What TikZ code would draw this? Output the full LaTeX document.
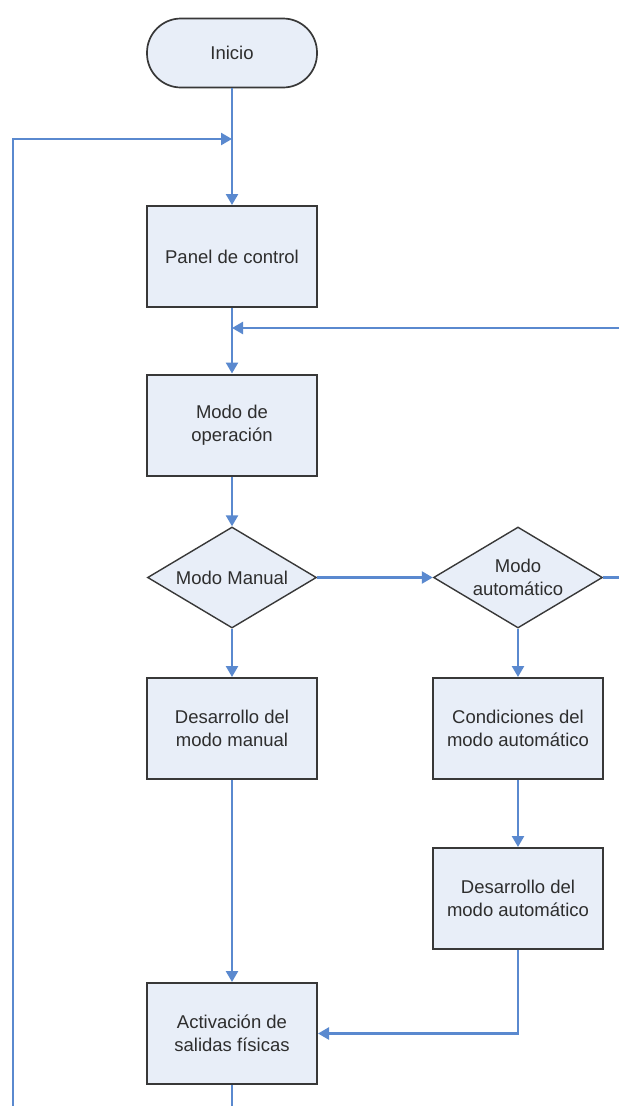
\documentclass[tikz,border=0pt]{standalone}
\usepackage{fontspec}
\setmainfont{Liberation Sans}
\usetikzlibrary{shapes.geometric,arrows.meta}
\definecolor{boxfill}{HTML}{E8EEF8}
\definecolor{boxline}{HTML}{383838}
\definecolor{flow}{HTML}{5A89CF}
\definecolor{txt}{HTML}{2E2E2E}
\begin{document}
\begin{tikzpicture}[x=1pt,y=-1pt,
  every node/.append style={font=\fontsize{18.5}{22.5}\selectfont, text=txt},
  proc/.style={draw=boxline, line width=2pt, fill=boxfill, minimum width=170pt,
    minimum height=101pt, align=center, inner sep=0pt},
  term/.style={draw=boxline, line width=1.7pt, fill=boxfill, rounded corners=34pt,
    minimum width=170pt, minimum height=69pt, inner sep=0pt},
  decision/.style={diamond, draw=boxline, line width=1.4pt, fill=boxfill,
    minimum width=169pt, minimum height=101pt, inner sep=0pt},
  flowline/.style={draw=flow, line width=2.4pt},
  arr/.style={flowline, -{Triangle[length=11pt,width=12pt]}}]
\useasboundingbox[fill=white] (0,0) rectangle (619,1106);

% main column
\node[term] (ini) at (232,53) {Inicio};
\node[proc] (pan) at (232,256.5) {Panel de control};
\node[proc] (op) at (232,425) {Modo de\\operación};
\node[decision, label={center:Modo Manual}] (mm) at (232,577.5) {};
\node[proc] (dm) at (232,728.5) {Desarrollo del\\modo manual};
\node[proc] (act) at (232,1033.5) {Activación de\\salidas físicas};

% automatic branch
\node[decision, label={[align=center]center:Modo\\automático}] (ma) at (518,577.5) {};
\node[proc] (cond) at (518,728.5) {Condiciones del\\modo automático};
\node[proc] (da) at (518,898.5) {Desarrollo del\\modo automático};

% loose ends and junctions
\coordinate (j1) at (232,139);
\coordinate (lt) at (13,139);
\coordinate (lb) at (13,1106);
\coordinate (j2) at (232,328);
\coordinate (re) at (619,328);
\coordinate (me) at (619,577.5);
\coordinate (ab) at (232,1106);

% connectors
\draw[arr] (ini) -- (pan);
\draw[arr] (lb) -- (lt) -- (j1);
\draw[arr] (pan) -- (op);
\draw[arr] (re) -- (j2);
\draw[arr] (op) -- (mm);
\draw[arr] (mm) -- (ma);
\draw[flowline] (ma.east) -- (me);
\draw[arr] (mm) -- (dm);
\draw[arr] (ma) -- (cond);
\draw[arr] (cond) -- (da);
\draw[arr] (dm) -- (act);
\draw[arr] (da.south) |- (act.east);
\draw[flowline] (act) -- (ab);
\end{tikzpicture}
\end{document}
